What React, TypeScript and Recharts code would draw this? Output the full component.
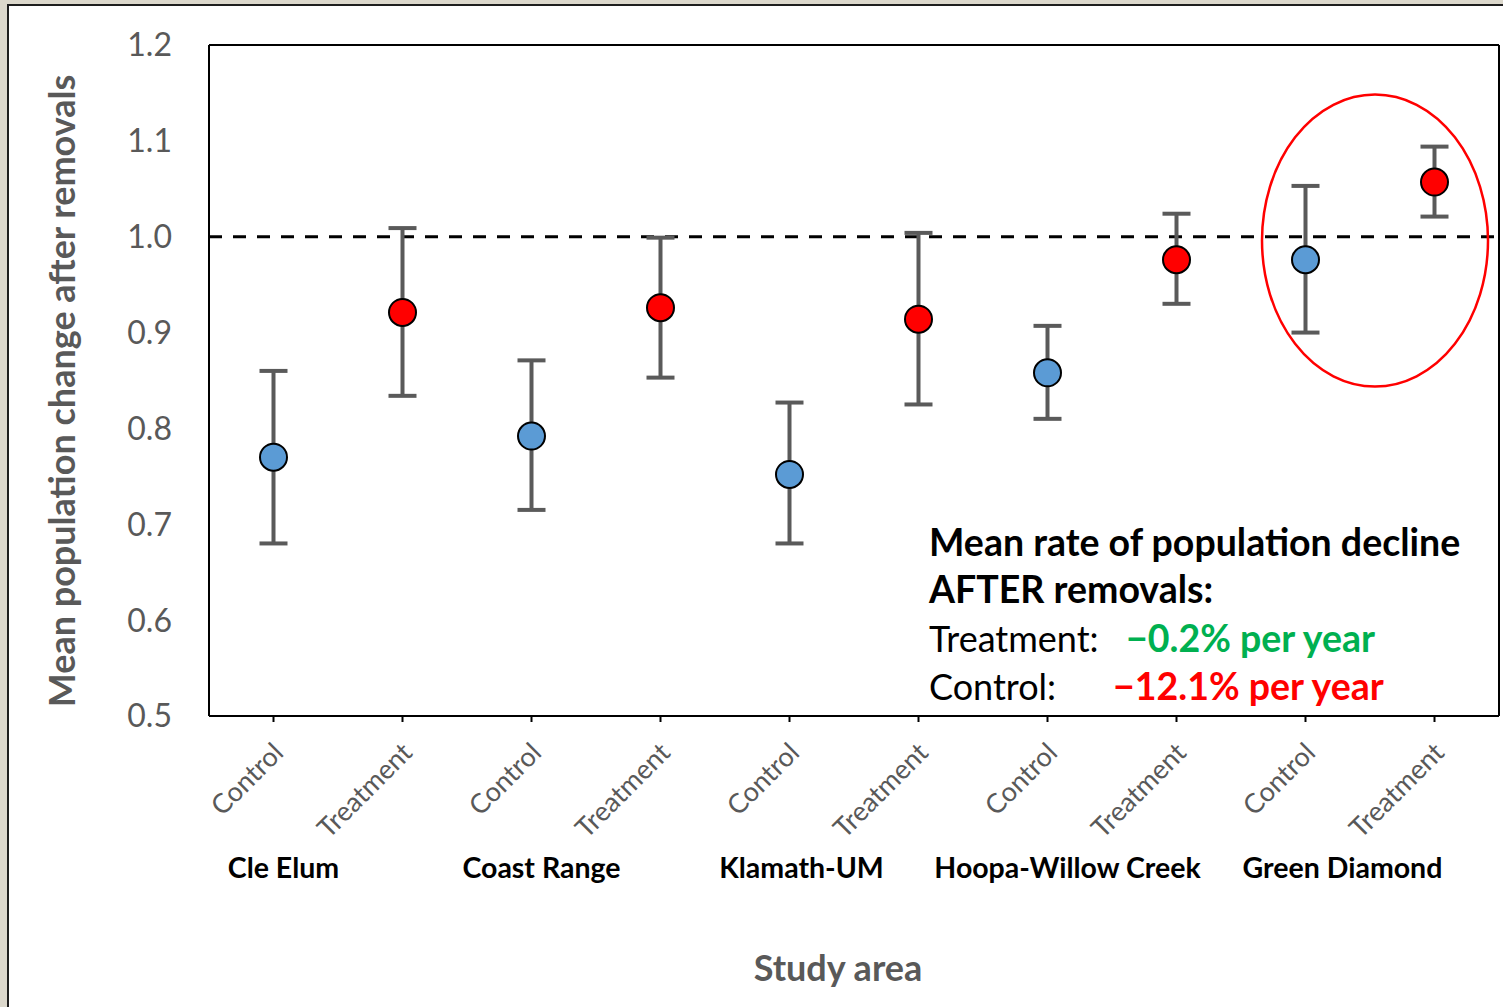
import {
  ComposedChart,
  Scatter,
  ErrorBar,
  XAxis,
  YAxis,
  ReferenceLine,
  ReferenceDot,
} from "recharts";

const STUDY_AREAS = ["Cle Elum", "Coast Range", "Klamath-UM", "Hoopa-Willow Creek", "Green Diamond"];
const CONTROL_MEAN = [0.77, 0.792, 0.752, 0.858, 0.976];
const CONTROL_LOW = [0.68, 0.715, 0.68, 0.81, 0.9];
const CONTROL_HIGH = [0.86, 0.871, 0.827, 0.907, 1.053];
const TREAT_MEAN = [0.921, 0.926, 0.914, 0.976, 1.057];
const TREAT_LOW = [0.834, 0.853, 0.825, 0.93, 1.021];
const TREAT_HIGH = [1.009, 0.999, 1.004, 1.024, 1.094];
const Y_TICKS = [0.5, 0.6, 0.7, 0.8, 0.9, 1.0, 1.1, 1.2];

const FONT = "Lato, 'Open Sans', sans-serif";
const GRAY = "#595959";
const BLUE = "#5b9bd5";
const RED = "#ff0000";
const GREEN = "#00b050";

// nudge of the study-area label from the Control tick (px)
const GROUP_SHIFT = [10, 10, 12, 20, 37];
const ELLIPSE_DX = 69.5;

type Row = { id: string; arm: string; area: number; mean: number; err: [number, number] };

const rows: Row[] = STUDY_AREAS.flatMap((_, i) => [
  {
    id: `c${i}`,
    arm: "Control",
    area: i,
    mean: CONTROL_MEAN[i],
    err: [CONTROL_MEAN[i] - CONTROL_LOW[i], CONTROL_HIGH[i] - CONTROL_MEAN[i]] as [number, number],
  },
  {
    id: `t${i}`,
    arm: "Treatment",
    area: i,
    mean: TREAT_MEAN[i],
    err: [TREAT_MEAN[i] - TREAT_LOW[i], TREAT_HIGH[i] - TREAT_MEAN[i]] as [number, number],
  },
]);
const byId = Object.fromEntries(rows.map((r) => [r.id, r]));

function ArmTick(props: any) {
  const { x, y, payload } = props;
  const row = byId[payload.value];
  if (!row) return null;
  const px = x + 4;
  const py = y + 25;
  return (
    <g>
      <text
        x={px}
        y={py}
        textAnchor="end"
        dominantBaseline="central"
        transform={`rotate(-45, ${px}, ${py})`}
        fontSize={27}
        fontFamily={FONT}
        fill={GRAY}
      >
        {row.arm}
      </text>
      {row.arm === "Control" && (
        <text
          x={x + GROUP_SHIFT[row.area]}
          y={y + 156}
          textAnchor="middle"
          fontSize={28.5}
          fontWeight="bold"
          fontFamily={FONT}
          fill="#000"
        >
          {STUDY_AREAS[row.area]}
        </text>
      )}
    </g>
  );
}

function Dot(p: any) {
  if (p.cx == null || p.cy == null) return null;
  return (
    <circle
      cx={p.cx}
      cy={p.cy}
      r={13.5}
      fill={p.payload.arm === "Control" ? BLUE : RED}
      stroke="#000"
      strokeWidth={2}
    />
  );
}

export default function App() {
  return (
    <div
      style={{
        position: "fixed",
        left: 0,
        top: 0,
        width: 1503,
        height: 1007,
        overflow: "hidden",
        background: "#dcd8cc",
        fontFamily: FONT,
      }}
    >
      <div
        style={{
          position: "absolute",
          left: 7,
          top: 4,
          width: 1600,
          height: 1100,
          background: "#fff",
          border: "2px solid #1e1e1e",
        }}
      />
      <div style={{ position: "absolute", left: 0, top: 0 }}>
        <ComposedChart width={1503} height={1007} data={rows} margin={{ top: 44, right: 0, bottom: 91, left: 0 }}>
          <XAxis
            dataKey="id"
            type="category"
            interval={0}
            height={200}
            padding={{ left: 64.5, right: 64.5 }}
            tick={<ArmTick />}
            tickSize={6}
            tickMargin={0}
            axisLine={{ stroke: "#000", strokeWidth: 2 }}
            tickLine={{ stroke: "#000", strokeWidth: 2 }}
          />
          <XAxis
            xAxisId="top"
            orientation="top"
            dataKey="id"
            type="category"
            height={1}
            padding={{ left: 64.5, right: 64.5 }}
            tick={false}
            tickLine={false}
            axisLine={{ stroke: "#000", strokeWidth: 2 }}
          />
          <YAxis
            type="number"
            domain={[0.5, 1.2]}
            ticks={Y_TICKS}
            width={209}
            tickSize={0}
            tickMargin={37}
            tickLine={false}
            axisLine={{ stroke: "#000", strokeWidth: 2 }}
            tickFormatter={(v: number) => v.toFixed(1)}
            tick={{ fontSize: 32, fill: GRAY, fontFamily: FONT }}
          />
          <YAxis
            yAxisId="right"
            orientation="right"
            type="number"
            domain={[0.5, 1.2]}
            width={4}
            tick={false}
            tickLine={false}
            axisLine={{ stroke: "#000", strokeWidth: 2 }}
          />
          <ReferenceLine y={1} stroke="#000" strokeWidth={3} strokeDasharray="13 11" />
          <ReferenceDot
            x="c4"
            y={0.996}
            r={10}
            ifOverflow="visible"
            shape={(p: any) => (
              <ellipse
                cx={p.cx + ELLIPSE_DX}
                cy={p.cy}
                rx={113}
                ry={146}
                fill="none"
                stroke={RED}
                strokeWidth={2.5}
              />
            )}
          />
          <Scatter dataKey="mean" isAnimationActive={false} shape={<Dot />}>
            <ErrorBar dataKey="err" direction="y" width={14} stroke="#5a5a5a" strokeWidth={4} />
          </Scatter>
        </ComposedChart>
      </div>
      <svg width={1503} height={1007} style={{ position: "absolute", left: 0, top: 0, pointerEvents: "none" }}>
        <text
          transform="translate(61,391) rotate(-90)"
          textAnchor="middle"
          dominantBaseline="central"
          fontSize={36}
          fontWeight="bold"
          fontFamily={FONT}
          fill={GRAY}
        >
          Mean population change after removals
        </text>
        <text
          x={838}
          y={967}
          textAnchor="middle"
          dominantBaseline="central"
          fontSize={36}
          fontWeight="bold"
          fontFamily={FONT}
          fill={GRAY}
        >
          Study area
        </text>
        <g fontFamily={FONT} fill="#000">
          <text x={929} y={556} fontWeight="bold" fontSize={37.5}>
            Mean rate of population decline
          </text>
          <text x={929} y={603} fontWeight="bold" fontSize={37.5}>
            AFTER removals:
          </text>
          <text x={929} y={652} fontSize={36}>
            Treatment:
            <tspan x={1126} fill={GREEN} fontWeight="bold" fontSize={37.5}>
              −0.2% per year
            </tspan>
          </text>
          <text x={929} y={700} fontSize={36}>
            Control:
            <tspan x={1113} fill={RED} fontWeight="bold" fontSize={37.5}>
              −12.1% per year
            </tspan>
          </text>
        </g>
      </svg>
    </div>
  );
}
